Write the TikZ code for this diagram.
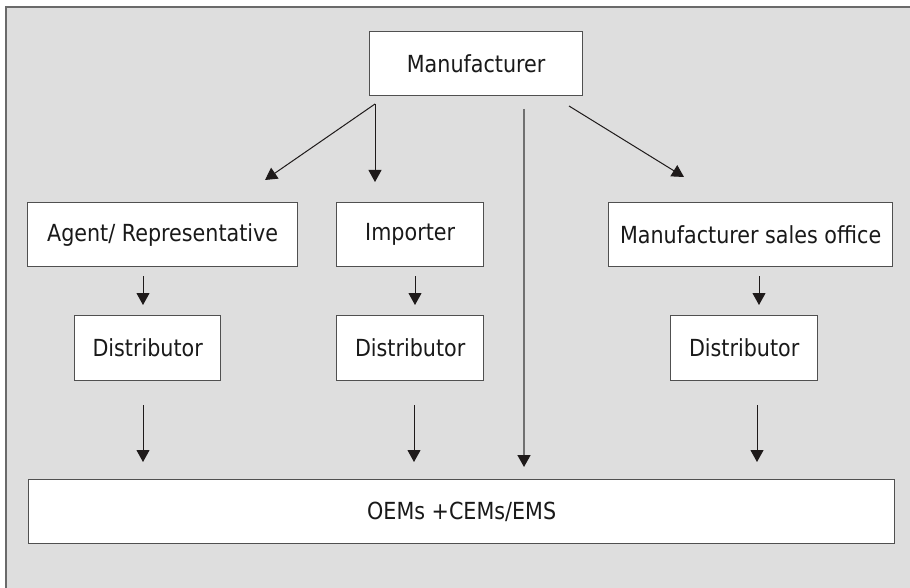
\documentclass[tikz,border=0pt]{standalone}
\usepackage{fontspec}
\setmainfont{DejaVu Sans}[FakeStretch=0.88]
\usetikzlibrary{arrows.meta}
\definecolor{bgc}{HTML}{DEDEDE}
\definecolor{framec}{HTML}{6A6A6A}
\definecolor{boxc}{HTML}{505050}
\definecolor{arrc}{HTML}{1E1A1A}
\definecolor{longc}{HTML}{707070}
\tikzset{
  box/.style={draw=boxc, line width=1.3pt, fill=white, inner sep=0pt, anchor=north west,
    font=\fontsize{23.5}{28}\selectfont, text=black!90},
  arr/.style={draw=arrc, line width=1pt, -{Triangle[length=12pt,width=13pt]}},
  longarr/.style={draw=longc, line width=1.6pt, -{Triangle[length=12pt,width=13pt,fill=arrc,color=arrc]}}
}
\begin{document}
\begin{tikzpicture}[x=1pt,y=-1pt]
\useasboundingbox (0,0) rectangle (910,588);
\fill[bgc] (0,0) rectangle (910,588);
\fill[white] (0,0) rectangle (910,6);
\fill[white] (0,0) rectangle (5,588);
\draw[framec, line width=2pt] (6,588) -- (6,7) -- (910,7);

\node[box, minimum width=213pt, minimum height=64pt] (mfr) at (369,31) {Manufacturer};
\node[box, minimum width=270pt, minimum height=64pt] (agent) at (27,202) {Agent/ Representative};
\node[box, minimum width=147pt, minimum height=64pt] (imp) at (336,202) {Importer};
\node[box, minimum width=284pt, minimum height=64pt] (mso) at (608,202) {Manufacturer sales office};
\node[box, minimum width=146pt, minimum height=65pt] (d1) at (74,315) {Distributor};
\node[box, minimum width=147pt, minimum height=65pt] (d2) at (336,315) {Distributor};
\node[box, minimum width=147pt, minimum height=65pt] (d3) at (670,315) {Distributor};
\node[box, minimum width=866pt, minimum height=64pt] (oem) at (28,479) {OEMs +CEMs/EMS};

% free ends of the connectors
\coordinate (mA) at (375,104);
\coordinate (tA) at (265,180);
\coordinate (tI) at (375,182);
\coordinate (mL) at (524,109);
\coordinate (tL) at (524,467);
\coordinate (mR) at (569,106);
\coordinate (tR) at (684,177);
\coordinate (a1s) at (143,276);
\coordinate (a1e) at (143,305);
\coordinate (a2s) at (415,276);
\coordinate (a2e) at (415,305);
\coordinate (a3s) at (759,276);
\coordinate (a3e) at (759,305);
\coordinate (b1s) at (143,405);
\coordinate (b1e) at (143,462);
\coordinate (b2s) at (414,405);
\coordinate (b2e) at (414,462);
\coordinate (b3s) at (757,405);
\coordinate (b3e) at (757,462);

\draw[arr] (mA) -- (tA);
\draw[arr] (mA) -- (tI);
\draw[longarr] (mL) -- (tL);
\draw[arr] (mR) -- (tR);
\draw[arr] (a1s) -- (a1e);
\draw[arr] (a2s) -- (a2e);
\draw[arr] (a3s) -- (a3e);
\draw[arr] (b1s) -- (b1e);
\draw[arr] (b2s) -- (b2e);
\draw[arr] (b3s) -- (b3e);
\end{tikzpicture}
\end{document}
